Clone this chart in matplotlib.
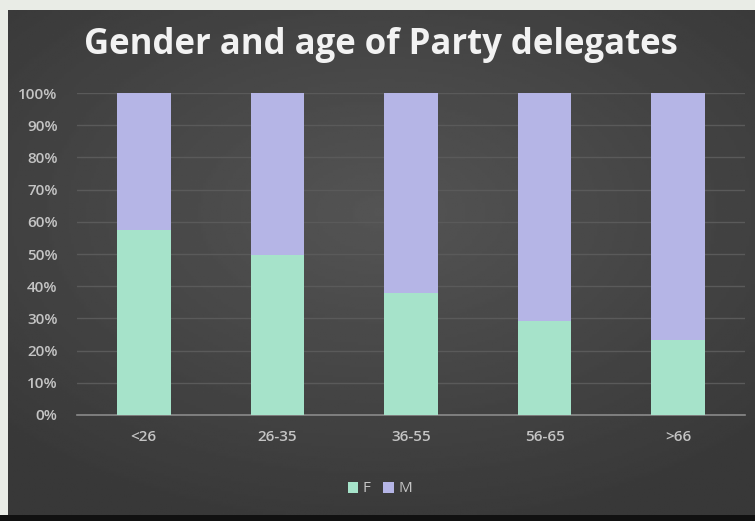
import numpy as np
import matplotlib.pyplot as plt

plt.rcParams['font.family'] = ['Open Sans', 'DejaVu Sans']

# data (share of delegates, %)
age_groups = ['<26', '26-35', '36-55', '56-65', '>66']
female = np.array([57.5, 49.7, 37.9, 29.2, 23.3])
male = 100 - female

W, H = 755, 521
fig = plt.figure(figsize=(W / 100, H / 100), dpi=100)
fig.patch.set_facecolor('#e9ece6')

# bottom black strip
strip = fig.add_axes([0, 0, 1, 6 / H])
strip.set_facecolor('#111111')
strip.set_xticks([])
strip.set_yticks([])
for s in strip.spines.values():
    s.set_visible(False)

# dark gradient panel behind the chart
bg = fig.add_axes([8 / W, 6 / H, (W - 8) / W, (H - 16) / H])
yy, xx = np.mgrid[-1:1:200j, -1:1:300j]
r = np.sqrt((xx * 0.9) ** 2 + ((yy + 0.2) * 1.0) ** 2)
shade = 0.33 - 0.11 * np.clip(r / 1.3, 0, 1)
bg.imshow(shade, cmap='gray', vmin=0, vmax=1, aspect='auto', extent=[0, 1, 0, 1])
bg.set_axis_off()

ax = fig.add_axes([77 / W, 1 - 415 / H, (745 - 77) / W, (415 - 93) / H])
ax.patch.set_alpha(0)
x = np.arange(len(age_groups))
ax.bar(x, female, width=0.4, color='#a6e3ca', label='F', zorder=3)
ax.bar(x, male, width=0.4, bottom=female, color='#b5b5e6', label='M', zorder=3)

ax.set_xlim(-0.5, 4.5)
ax.set_ylim(0, 100)
ax.set_yticks(np.arange(0, 101, 10))
ax.set_yticklabels([f'{v}%' for v in range(0, 101, 10)])
ax.set_xticks(x)
ax.set_xticklabels(age_groups)
ax.tick_params(colors='#c4c4c4', labelsize=11, length=0)
ax.tick_params(axis='y', pad=14)
ax.tick_params(axis='x', pad=11)
for lbl in ax.get_xticklabels() + ax.get_yticklabels():
    lbl.set_fontweight('semibold')
ax.grid(axis='y', color='#5a5a5a', linewidth=1, zorder=0)
for side in ['top', 'right', 'left']:
    ax.spines[side].set_visible(False)
ax.spines['bottom'].set_color('#8a8a8a')
ax.spines['bottom'].set_linewidth(1.2)

fig.text(0.505, 1 - 45 / H, 'Gender and age of Party delegates', ha='center', va='center',
         color='#f2f2f2', fontsize=25, fontweight='bold')

fig.legend(loc='center', bbox_to_anchor=(0.503, 1 - 489 / H), ncol=2, frameon=False,
           labelcolor='#c4c4c4', fontsize=11, handlelength=0.7, handleheight=0.7,
           handletextpad=0.3, columnspacing=0.8)

plt.savefig('out.png', dpi=100)
